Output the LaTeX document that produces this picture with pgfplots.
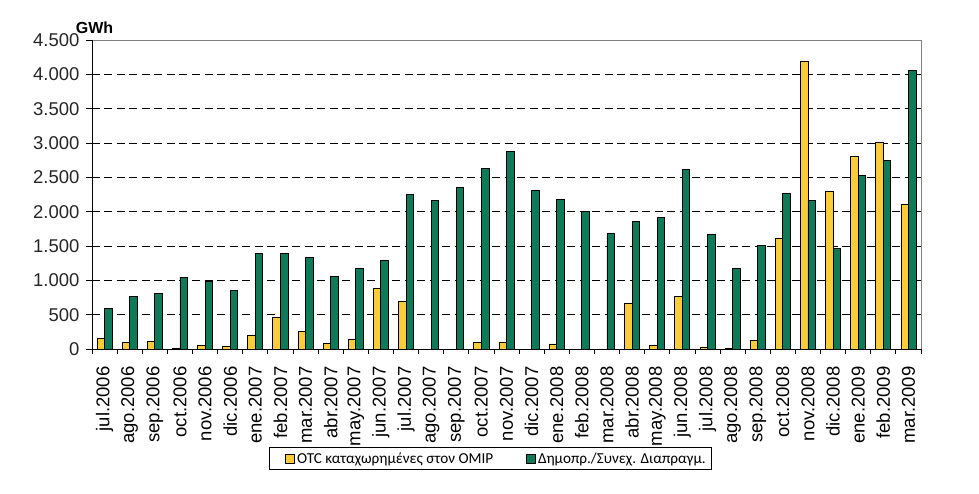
\documentclass[border=0pt]{standalone}
\usepackage{fontspec}
\setmainfont{Liberation Sans}
\newfontfamily\calibri{Carlito}
\usepackage{pgfplots}
\pgfplotsset{compat=1.18}
\definecolor{otcyellow}{RGB}{250,204,58}
\definecolor{omgreen}{RGB}{14,122,88}
\begin{document}
\begin{tikzpicture}
\begin{axis}[
  name=ax,
  scale only axis,
  width=829bp, height=309bp,
  xmin=-0.5, xmax=32.5,
  ymin=0, ymax=4500,
  ybar=0pt, bar width=0.3,
  axis line style={draw=none},
  tick pos=left,
  tick align=outside,
  major tick length=6bp,
  minor tick length=5bp,
  xtick={0,...,32},
  minor xtick={-0.5,0.5,...,32.5},
  every major x tick/.append style={draw=none},
  every minor x tick/.append style={black, line width=0.8bp},
  every major y tick/.append style={black, line width=0.8bp},
  xticklabels={jul.2006,ago.2006,sep.2006,oct.2006,nov.2006,dic.2006,ene.2007,feb.2007,mar.2007,abr.2007,may.2007,jun.2007,jul.2007,ago.2007,sep.2007,oct.2007,nov.2007,dic.2007,ene.2008,feb.2008,mar.2008,abr.2008,may.2008,jun.2008,jul.2008,ago.2008,sep.2008,oct.2008,nov.2008,dic.2008,ene.2009,feb.2009,mar.2009},
  xticklabel shift=8bp,
  xticklabel style={rotate=90, anchor=east, font=\fontsize{18.5bp}{20bp}\selectfont, text=black},
  ytick={0,500,...,4500},
  yticklabel shift=3bp,
  yticklabel style={anchor=east, font=\fontsize{18.5bp}{20bp}\selectfont, text=black!85},
  scaled y ticks=false,
  /pgf/number format/assume math mode=true,
  /pgf/number format/1000 sep={.},
  extra y ticks={500,1000,...,4000},
  extra y tick labels={},
  extra y tick style={grid=major, major tick length=0pt},
  major grid style={black, line width=0.8bp, dash pattern=on 8bp off 4.5bp},
  legend columns=2,
  legend style={at={(0.2135,-0.3172)}, anchor=north west, draw=black, line width=0.8bp,
    font=\calibri\fontsize{15.2bp}{18bp}\selectfont, inner xsep=4bp, inner ysep=3bp,
    /tikz/every even column/.append style={column sep=19bp}},
]
\addplot+[ybar, fill=otcyellow, draw=black, line width=0.8bp,
  legend image code/.code={\path (0bp,0bp); \draw[fill=otcyellow, draw=black, line width=0.6bp] (12bp,-4.5bp) rectangle (21bp,4.5bp);}]
  coordinates {(0,160) (1,92) (2,107) (3,15) (4,49) (5,34) (6,195) (7,457) (8,253) (9,78) (10,146) (11,881) (12,691) (15,92) (16,102) (18,73) (21,671) (22,58) (23,759) (24,29) (25,15) (26,131) (27,1606) (28,4195) (29,2292) (30,2805) (31,3004) (32,2107)};
\addlegendentry{OTC καταχωρημένες στον OMIP}
\addplot+[ybar, fill=omgreen, draw=black, line width=0.8bp,
  legend image code/.code={\path (0bp,0bp); \draw[fill=omgreen, draw=black, line width=0.6bp] (12bp,-4.5bp) rectangle (21bp,4.5bp);}]
  coordinates {(0,589) (1,764) (2,808) (3,1041) (4,983) (5,852) (6,1392) (7,1392) (8,1333) (9,1056) (10,1173) (11,1290) (12,2253) (13,2165) (14,2355) (15,2626) (16,2873) (17,2306) (18,2175) (19,2000) (20,1684) (21,1854) (22,1912) (23,2611) (24,1664) (25,1168) (26,1504) (27,2263) (28,2160) (29,1460) (30,2529) (31,2742) (32,4054)};
\addlegendentry{Δημοπρ./Συνεχ. Διαπραγμ.}
\end{axis}
\draw[gray, line width=0.8bp] (ax.north west) -- (ax.north east) -- (ax.south east);
\draw[black, line width=0.8bp] (ax.north west) -- (ax.south west) -- (ax.south east);
\node[anchor=base west, inner sep=0pt, font=\bfseries\fontsize{16bp}{18bp}\selectfont] at ([shift={(-16.3bp,6.7bp)}]ax.north west) {GWh};
\path ([shift={(-92bp,-145bp)}]ax.south west) rectangle ([shift={(58bp,40bp)}]ax.north east);
\end{tikzpicture}
\end{document}
